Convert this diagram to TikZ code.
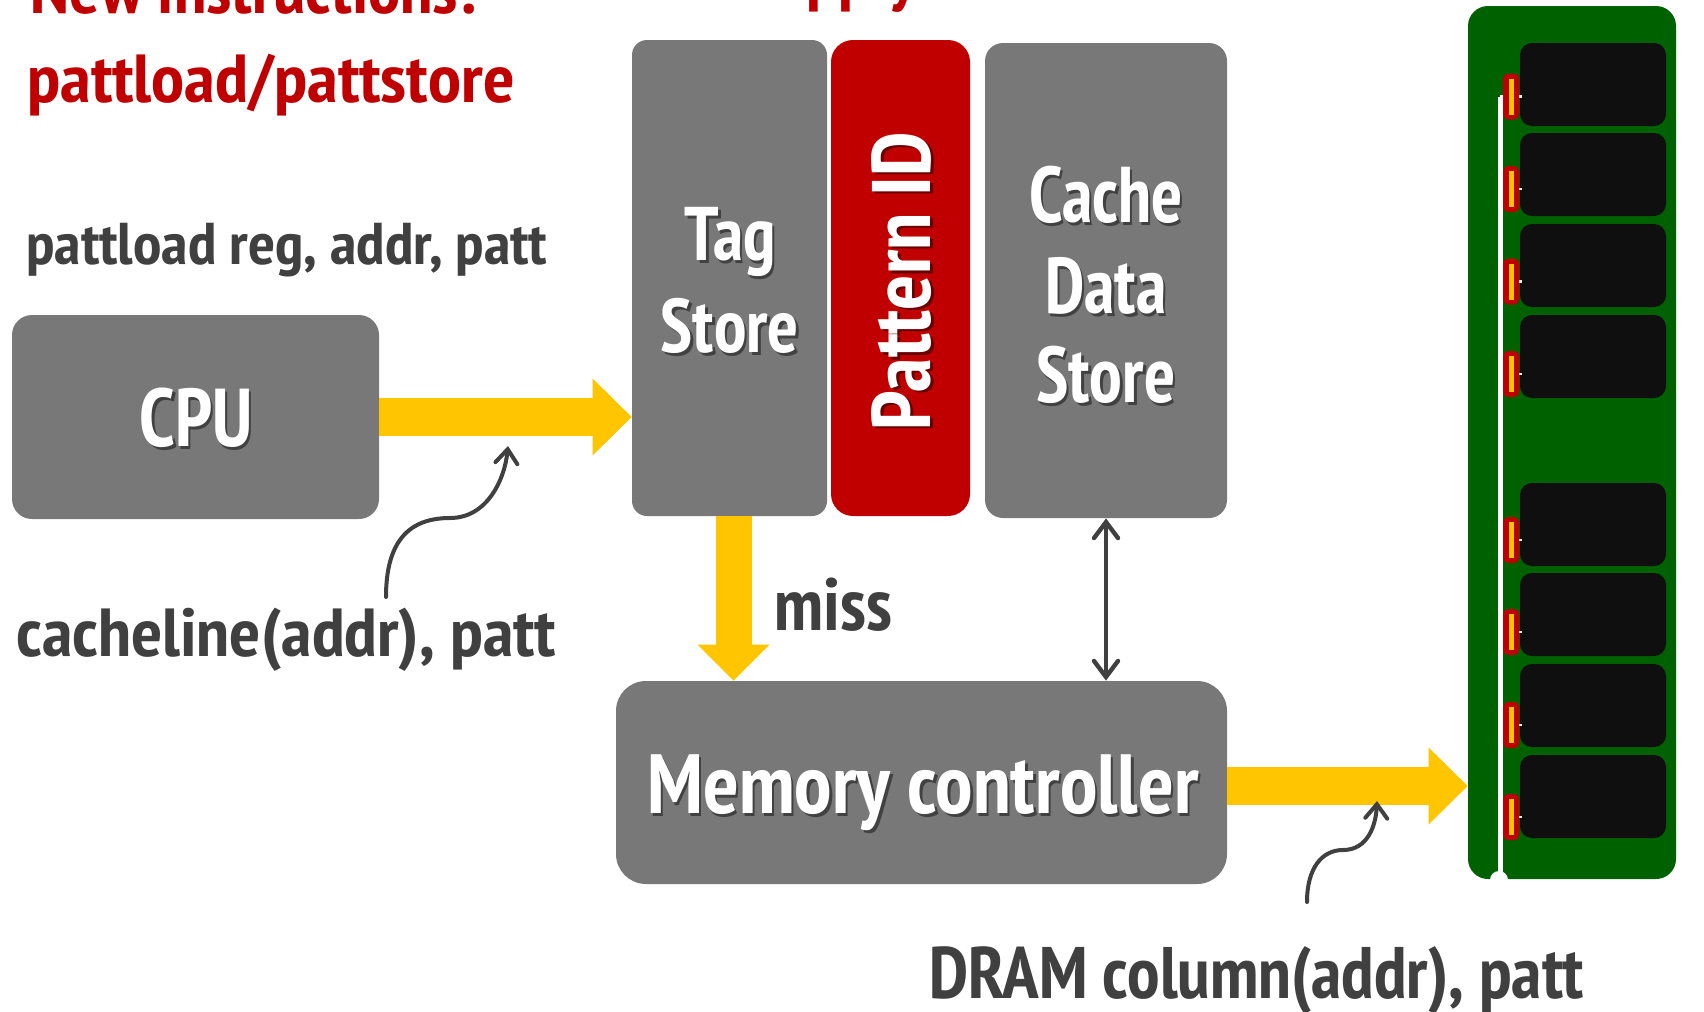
\documentclass[tikz,border=0pt]{standalone}
\usepackage{fontspec}
\usepackage{graphicx}
\setmainfont{PT Sans Narrow}[BoldFont={PT Sans Narrow Bold}]
\usetikzlibrary{arrows.meta}
\definecolor{boxgray}{HTML}{787878}
\definecolor{pidred}{HTML}{C00000}
\definecolor{flowyel}{HTML}{FFC600}
\definecolor{ink}{HTML}{404040}
\definecolor{pcb}{HTML}{006100}
\definecolor{chipblk}{HTML}{0F0F0F}
\newcommand{\fsz}[1]{\fontsize{#1}{#1}\selectfont\bfseries}
% horizontal squeeze/stretch of a label
\newcommand{\hstretch}[2]{\scalebox{#1}[1]{#2}}
\begin{document}
\begin{tikzpicture}[x=0.5pt,y=-0.5pt,
  block/.style={fill=boxgray, inner sep=0pt, draw=none},
  lbl/.style={inner sep=0pt, font=\fsz{#1}},
  boxtext/.style={lbl=#1, text=white, anchor=base},
  boxshade/.style={lbl=#1, text=black, opacity=0.45, anchor=base},
  title/.style={lbl=34, text=pidred, anchor=base west},
  note/.style={lbl=#1, text=ink, anchor=base west},
  fatarrow/.style={draw=flowyel, line width=19pt, line cap=butt,
    -{Triangle[length=19.5pt, width=38.5pt, line width=0pt]}},
  pointer/.style={draw=ink, line width=2pt, line cap=round,
    -{Straight Barb[length=7pt, width=11pt, line cap=round]}},
  busline/.style={draw=ink, line width=2.2pt,
    {Straight Barb[length=8pt, width=12pt, line cap=round]}-{Straight Barb[length=8pt, width=12pt, line cap=round]}},
  chipbox/.style={fill=chipblk, rounded corners=6pt},
  pin/.style={fill=pidred, rounded corners=2.5pt},
  pincore/.style={fill=flowyel},
]
\useasboundingbox (0,0) rectangle (1704,1012);
\clip (0,0) rectangle (1704,1012);
\fill[white] (0,0) rectangle (1704,1012);

% ---- headings (partly above the frame)
\node[title] (hdA) at (742,-2) {\hstretch{1.06}{Supply}};
\node[title] (hd1) at (30,13) {\hstretch{1.06}{New instructions:}};
\node[title] (hd2) at (27,102) {\hstretch{1.09}{pattload/pattstore}};
\node[note=29.5] (isa) at (26,264) {\hstretch{1.08}{pattload reg, addr, patt}};

% ---- blocks
\node[block, rounded corners=10pt, minimum width=183.5pt, minimum height=102pt] (cpu) at (195.5,417) {};
\node[block, rounded corners=7.5pt, minimum width=97.5pt, minimum height=238pt] (tag) at (729.5,278) {};
\node[block, fill=pidred, rounded corners=11pt, minimum width=69.5pt, minimum height=238pt] (pid) at (900.5,278) {};
\node[block, rounded corners=9pt, minimum width=121pt, minimum height=237.5pt] (cache) at (1106,280.5) {};
\node[block, rounded corners=15pt, minimum width=305.5pt, minimum height=101.5pt] (mem) at (921.5,782.5) {};

% ---- block labels (with soft drop shadow)
\node[boxshade=41] (cpuS) at (198.5,449) {\hstretch{0.95}{CPU}};
\node[boxtext=41] (cpuT) at (196,446) {\hstretch{0.95}{CPU}};
\node[boxshade=38] (tag1S) at (732.5,263) {\hstretch{0.96}{Tag}};
\node[boxtext=38] (tag1T) at (730,260) {\hstretch{0.96}{Tag}};
\node[boxshade=38] (tag2S) at (732.5,355) {\hstretch{0.96}{Store}};
\node[boxtext=38] (tag2T) at (730,352) {\hstretch{0.96}{Store}};
\node[boxshade=41.5, rotate=90] (pidS) at (933,283.5) {Pattern ID};
\node[boxtext=41.5, rotate=90] (pidT) at (930,281) {Pattern ID};
\node[boxshade=39.5] (c1S) at (1108.5,225) {\hstretch{0.93}{Cache}};
\node[boxtext=39.5] (c1T) at (1106,222) {\hstretch{0.93}{Cache}};
\node[boxshade=39.5] (c2S) at (1108.5,316) {\hstretch{0.93}{Data}};
\node[boxtext=39.5] (c2T) at (1106,313) {\hstretch{0.93}{Data}};
\node[boxshade=39.5] (c3S) at (1108.5,405) {\hstretch{0.93}{Store}};
\node[boxtext=39.5] (c3T) at (1106,402) {\hstretch{0.93}{Store}};
\node[boxshade=42] (memS) at (925.5,816) {Memory controller};
\node[boxtext=42] (memT) at (923,813) {Memory controller};

% ---- DRAM module
\node[fill=pcb, rounded corners=10pt, inner sep=0pt, minimum width=104pt, minimum height=436.5pt] (dimm) at (1572,442.5) {};
\draw[white, line width=2.5pt] (1500,97) -- (1500,884);
\fill[white] (1499,880) circle (9);
\foreach \t/\p in {43/96.5, 133/189, 224/281.5, 315/374, 483/540, 573/632, 664/725, 755/817}{
  \fill[chipbox] (1520,\t) rectangle (1666,\t+83);
  \draw[white, line width=1.2pt] (1500,\p) -- (1522,\p);
  \fill[pin] (1503,\p-23) rectangle (1519,\p+23);
  \fill[pincore] (1509,\p-18) rectangle (1514,\p+18);
}

% ---- data flow
\draw[fatarrow] (cpu.east) -- (cpu.east -| tag.west);
\draw[fatarrow, line width=18pt, -{Triangle[length=18pt, width=36pt, line width=0pt]}]
  ([xshift=2pt]tag.south) -- ([xshift=2pt]tag.south |- mem.north);
\draw[fatarrow] ([yshift=-1.75pt]mem.east) -- ([yshift=-1.75pt]mem.east -| dimm.west);
\draw[busline] (cache.south) -- (cache.south |- mem.north);

\node[note=37] (miss) at (774,630) {miss};
\node[note=34] (cl) at (16,656) {\hstretch{1.08}{cacheline(addr), patt}};
\node[note=36.5] (dc) at (929,998) {DRAM column(addr), patt};

% ---- pointers from the labels to the arrows
\coordinate (p1s) at (386,597);
\coordinate (p1e) at (508,446);
\draw[pointer] (p1s) .. controls (386,540) and (410,518) .. (450,518)
  .. controls (488,518) and (505,478) .. (p1e);
\coordinate (p2s) at (1307,902);
\coordinate (p2e) at (1377,801);
\draw[pointer] (p2s) .. controls (1307,868) and (1322,850) .. (1343,850)
  .. controls (1368,850) and (1376,825) .. (p2e);
\end{tikzpicture}
\end{document}
